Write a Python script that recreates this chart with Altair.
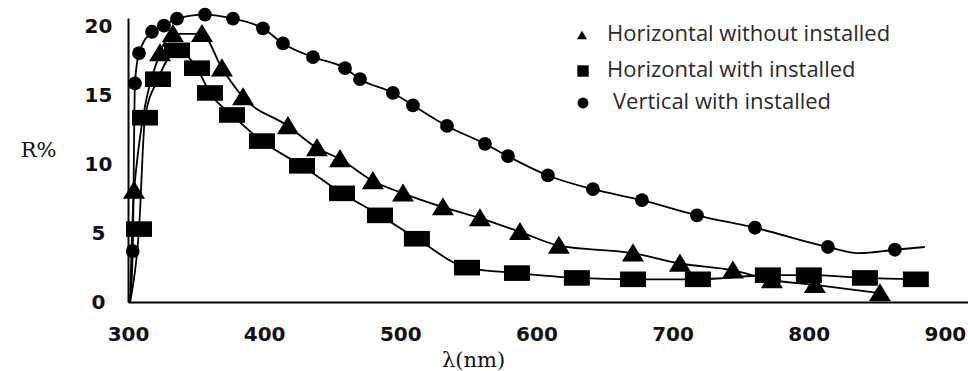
import altair as alt
import pandas as pd

# ---------------- data ----------------
SERIES = ["Horizontal without installed", "Horizontal with installed", "Vertical with installed"]

# Horizontal without installed (triangles)
tri_x = [304.4, 323.5, 333.0, 354.3, 369.0, 384.5, 417.5, 438.8, 455.7, 479.9, 502.0,
         531.3, 558.5, 587.9, 616.5, 670.9, 705.4, 744.3, 773.0, 804.5, 852.3]
tri_y = [8.1, 18.1, 19.5, 19.5, 17.0, 14.9, 12.8, 11.2, 10.4, 8.8, 7.9,
         6.9, 6.1, 5.1, 4.1, 3.55, 2.8, 2.3, 1.6, 1.25, 0.65]

# Horizontal with installed (squares)
sq_x = [308.1, 312.5, 322.0, 336.0, 350.7, 360.2, 376.4, 398.4, 427.8, 457.2, 485.1,
        512.2, 549.0, 585.7, 629.7, 670.9, 718.6, 770.0, 800.1, 841.3, 878.7]
sq_y = [5.3, 13.4, 16.2, 18.3, 17.0, 15.2, 13.6, 11.7, 9.9, 7.9, 6.3,
        4.6, 2.5, 2.1, 1.75, 1.65, 1.65, 1.95, 1.95, 1.75, 1.65]

# Vertical with installed (circles)
circ_x = [303.5, 305.1, 308.1, 317.6, 326.4, 336.0, 356.5, 377.1, 399.1, 413.8, 435.9,
          459.4, 470.4, 494.6, 509.3, 534.3, 562.2, 579.1, 608.4, 641.5, 677.5, 717.9,
          760.5, 814.1, 863.3]
circ_y = [3.7, 15.9, 18.1, 19.65, 20.1, 20.6, 20.9, 20.6, 19.9, 18.8, 17.8,
          17.0, 16.2, 15.2, 14.3, 12.8, 11.5, 10.6, 9.2, 8.2, 7.4, 6.3,
          5.4, 4.0, 3.8]

# curve-only points (no marker): common origin and the tail of the circle curve
start_x = [301.5]
start_y = [0.0]
circ_tail_x = [837.6, 885.3]
circ_tail_y = [3.55, 4.0]

x_ticks = [300, 400, 500, 600, 700, 800, 900]
y_ticks = [0, 5, 10, 15, 20]

# ---------------- tables ----------------
def pts(name, xs, ys):
    return pd.DataFrame({"series": name, "x": xs, "y": ys})

markers = pd.concat([
    pts(SERIES[0], tri_x, tri_y),
    pts(SERIES[1], sq_x, sq_y),
    pts(SERIES[2], circ_x, circ_y),
], ignore_index=True)

curves = pd.concat([
    pts(SERIES[0], start_x + tri_x, start_y + tri_y),
    pts(SERIES[1], start_x + sq_x, start_y + sq_y),
    pts(SERIES[2], start_x + circ_x + circ_tail_x, start_y + circ_y + circ_tail_y),
], ignore_index=True).sort_values(["series", "x"])

legend_df = pd.DataFrame({"series": SERIES})

# ---------------- encodings ----------------
x_enc = alt.X(
    "x:Q",
    scale=alt.Scale(domain=[300, 917], nice=False, zero=False),
    axis=alt.Axis(
        values=x_ticks, title="λ(nm)", grid=False, ticks=False, tickSize=0,
        domainColor="black", domainWidth=2, labelFlush=False,
        labelFont="DejaVu Sans", labelFontWeight="bold", labelFontSize=20,
        labelColor="#111", labelPadding=32, labelBaseline="middle",
        titleFont="DejaVu Serif", titleFontSize=21, titleFontWeight="normal",
        titleColor="#111", titleX=345, titleY=58, titleAlign="center",
        titleBaseline="middle",
    ),
)
y_enc = alt.Y(
    "y:Q",
    scale=alt.Scale(domain=[0, 20.65], nice=False, zero=False),
    axis=alt.Axis(
        values=y_ticks, title="R%", grid=False, ticks=False, tickSize=0,
        domainColor="black", domainWidth=2,
        labelFont="DejaVu Sans", labelFontWeight="bold", labelFontSize=20,
        labelColor="#111", labelPadding=30, labelAlign="center",
        titleFont="DejaVu Serif", titleFontSize=21, titleFontWeight="normal",
        titleColor="#111", titleAngle=0, titleX=-90, titleY=132,
        titleAlign="center", titleBaseline="middle",
    ),
)

lines = alt.Chart(curves).mark_line(
    interpolate="monotone", color="black", strokeWidth=1.8
).encode(x=x_enc, y=y_enc, detail="series:N")

TRI = "M0,-0.9L1,0.75L-1,0.75Z"
RECT = "M-1,-0.6L1,-0.6L1,0.6L-1,0.6Z"

def marker_layer(name, shape, size):
    return alt.Chart(markers).transform_filter(
        alt.datum.series == name
    ).mark_point(shape=shape, size=size, filled=True, color="black", opacity=1, strokeWidth=0).encode(
        x="x:Q", y="y:Q"
    )

tri_layer = marker_layer(SERIES[0], TRI, 484)
sq_layer = marker_layer(SERIES[1], RECT, 676)
circ_layer = marker_layer(SERIES[2], "circle", 190)

# ---------------- legend (drawn by hand, top right) ----------------
def legend_entry(name, shape, size, sx, sy, tx):
    d = legend_df[legend_df["series"] == name]
    sym = alt.Chart(d).mark_point(shape=shape, size=size, filled=True, color="black",
                                  opacity=1, strokeWidth=0).encode(
        x=alt.value(sx), y=alt.value(sy))
    txt = alt.Chart(d).mark_text(align="left", baseline="middle", font="Open Sans",
                                 fontSize=22, color="#2a2a2a").encode(
        x=alt.value(tx), y=alt.value(sy - 1), text="series:N")
    return sym + txt

leg1 = legend_entry(SERIES[0], "triangle-up", 100, 454, 17, 479)
leg2 = legend_entry(SERIES[1], "square", 130, 455, 53, 479)
leg3 = legend_entry(SERIES[2], "circle", 120, 455, 85, 485)

chart = alt.layer(
    lines, tri_layer, sq_layer, circ_layer, leg1, leg2, leg3
).properties(
    width=840, height=284,
    padding={"left": 128, "top": 18, "right": 0, "bottom": 69},
    autosize=alt.AutoSizeParams(type="none"),
    background="white",
).configure_view(strokeWidth=0)

chart.save("out.html", embed_options={"renderer": "svg", "actions": False})
